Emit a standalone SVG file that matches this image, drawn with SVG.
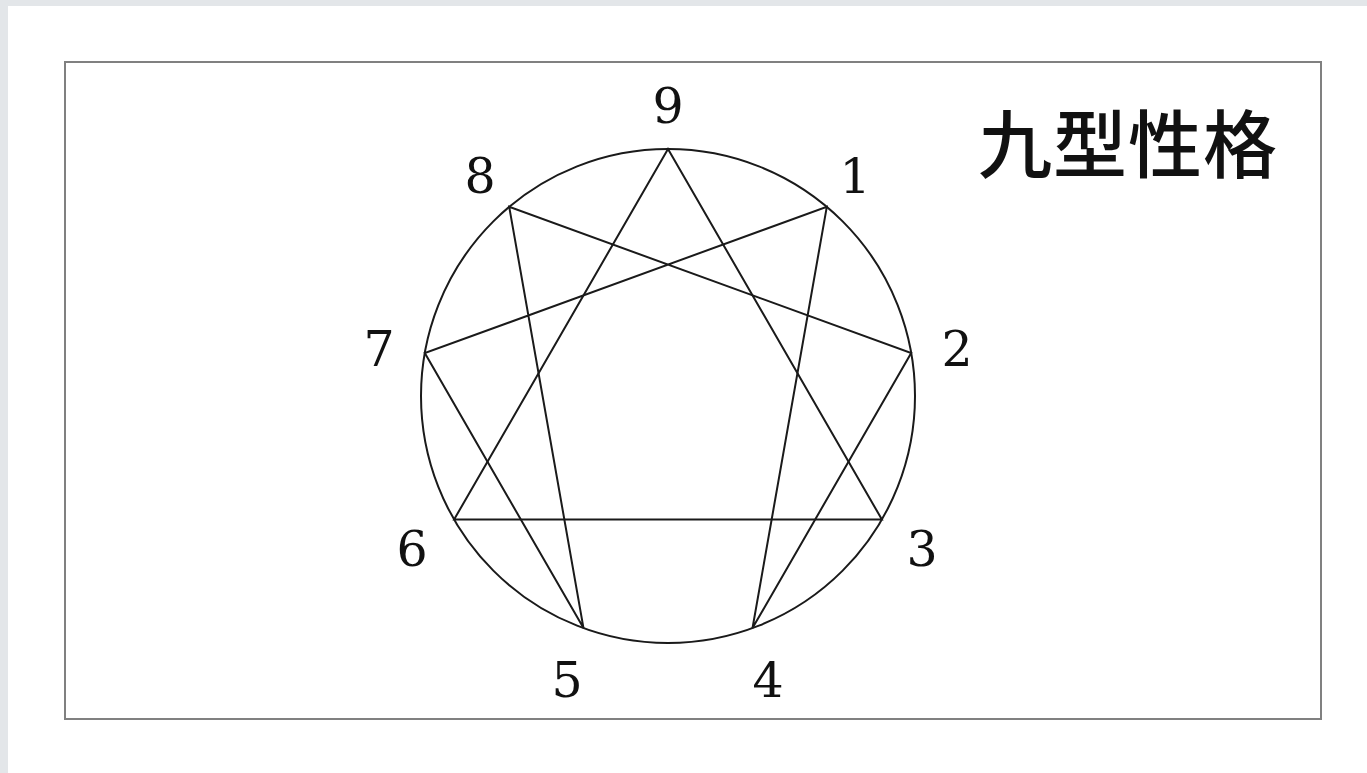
<svg xmlns="http://www.w3.org/2000/svg" width="1367" height="773" viewBox="0 0 1367 773">
<style>
.ln{stroke:#1a1a1a;stroke-width:2;fill:none}
.num{font-family:"DejaVu Serif",serif;font-size:49px;fill:#111;text-anchor:middle}
.title{font-family:"Noto Sans CJK SC","Noto Sans CJK TC",sans-serif;font-size:74px;font-weight:500;fill:#111;letter-spacing:1px}
</style>
<rect x="0" y="0" width="1367" height="773" fill="#e3e6e9"/>
<rect x="8" y="6" width="1359" height="767" fill="#ffffff"/>
<rect x="65" y="62" width="1256" height="657" fill="#ffffff" stroke="#808080" stroke-width="2"/>
<g id="connectors">
<circle class="ln" cx="668" cy="396" r="247"/>
<polygon class="ln" points="668,149 881.9,519.5 454.1,519.5"/>
<polygon class="ln" points="826.8,206.8 752.5,628.1 911.2,353.1 509.2,206.8 583.5,628.1 424.8,353.1"/>
</g>
<g id="node-9"><text class="num" x="668" y="123">9</text></g>
<g id="node-1"><text class="num" x="855" y="193">1</text></g>
<g id="node-2"><text class="num" x="957" y="366">2</text></g>
<g id="node-3"><text class="num" x="922" y="566">3</text></g>
<g id="node-4"><text class="num" x="768" y="697">4</text></g>
<g id="node-5"><text class="num" x="567" y="697">5</text></g>
<g id="node-6"><text class="num" x="412" y="566">6</text></g>
<g id="node-7"><text class="num" x="379" y="366">7</text></g>
<g id="node-8"><text class="num" x="480" y="193">8</text></g>
<g id="title"><text class="title" x="978" y="172">九型性格</text></g>
</svg>
